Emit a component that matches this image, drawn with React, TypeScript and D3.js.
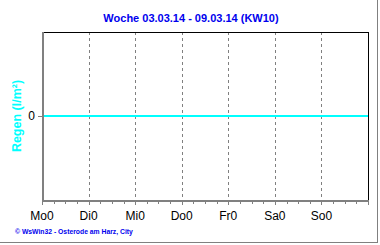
import React from "react";
import * as d3 from "d3";

const title = "Woche 03.03.14 - 09.03.14 (KW10)";
const yLabel = "Regen (l/m²)";
const footer = "© WsWin32  -  Osterode am Harz, City";
const dayLabels = ["Mo0", "Di0", "Mi0", "Do0", "Fr0", "Sa0", "So0"];
const rainHours = [0, 168];
const rainValues = [0, 0];
const yTicks = [0];

export default function App() {
  const W = 380, H = 245;
  const left = 42, right = 368, top = 32, bottom = 200;
  const x = d3.scaleLinear().domain([0, 168]).range([left, right]);
  const y = d3.scaleLinear().domain([-1, 1]).range([bottom, top]);
  const line = d3.line<number>().x((_, i) => x(rainHours[i])).y((d) => y(d));
  const minor = d3.range(0, 169, 6);
  return (
    <div style={{ position: "absolute", left: 0, top: 0 }}>
      <svg width={W} height={H} style={{ display: "block" }} shapeRendering="crispEdges">
        <rect x={0} y={0} width={W} height={H} fill="#fff" />
        <line x1={377.5} y1={0} x2={377.5} y2={242.5} stroke="#808080" strokeWidth={1} />
        <line x1={0} y1={242.5} x2={378} y2={242.5} stroke="#808080" strokeWidth={1} />
        <text x={191} y={22} textAnchor="middle" fontFamily="Liberation Sans, Arial, sans-serif" fontWeight="bold" fontSize={11} fill="#0000ee">{title}</text>
        {dayLabels.slice(1).map((_, i) => (
          <line key={i} x1={Math.round(x((i + 1) * 24)) + 0.5} x2={Math.round(x((i + 1) * 24)) + 0.5} y1={top} y2={bottom} stroke="#808080" strokeDasharray="3,3" />
        ))}
        <line x1={left} y1={top + 0.5} x2={right + 0.5} y2={top + 0.5} stroke="#000" />
        <line x1={right + 0.5} y1={top} x2={right + 0.5} y2={bottom} stroke="#000" strokeWidth={1.5} />
        <path d={line(rainValues) || ""} fill="none" stroke="#00ffff" strokeWidth={2} />
        <rect x={left - 0.5} y={top} width={2} height={bottom - top + 1} fill="#808080" />
        <rect x={left - 0.5} y={bottom} width={right - left + 1} height={2} fill="#808080" />
        {minor.map((h) => (
          <line key={h} x1={Math.round(x(h)) + 0.5} x2={Math.round(x(h)) + 0.5} y1={bottom + 2} y2={bottom + (h % 24 === 0 ? 5 : 4)} stroke="#808080" />
        ))}
        {dayLabels.map((d, i) => (
          <text key={d} x={x(i * 24)} y={220} textAnchor="middle" fontFamily="Liberation Sans, Arial, sans-serif" fontSize={12} fill="#000">{d}</text>
        ))}
        {yTicks.map((t) => (
          <g key={t}>
            <line x1={38} x2={left} y1={Math.round(y(t)) + 0.5} y2={Math.round(y(t)) + 0.5} stroke="#808080" />
            <text x={35} y={y(t) + 4} textAnchor="end" fontFamily="Liberation Sans, Arial, sans-serif" fontSize={12} fill="#000">{t}</text>
          </g>
        ))}
        <text transform={`translate(21,116) rotate(-90)`} textAnchor="middle" fontFamily="Liberation Sans, Arial, sans-serif" fontWeight="bold" fontSize={12.5} fill="#00ffff">{yLabel}</text>
        <text x={15} y={234} fontFamily="Liberation Sans, Arial, sans-serif" fontWeight="bold" fontSize={6.8} fill="#0000ee">{footer}</text>
      </svg>
    </div>
  );
}
